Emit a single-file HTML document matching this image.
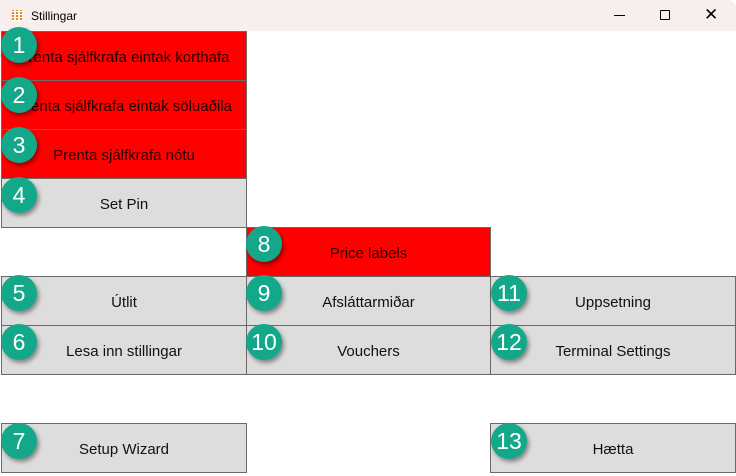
<!DOCTYPE html>
<html><head><meta charset="utf-8"><style>
*{margin:0;padding:0;box-sizing:border-box}
body{width:736px;height:473px;overflow:hidden;background:#fff;font-family:"Liberation Sans","DejaVu Sans",sans-serif;position:relative}
.tb{position:absolute;left:0;top:0;width:736px;height:31px;background:#f7efee;border-top-right-radius:8px}
.tt{position:absolute;left:31px;top:9px;font-size:12px;color:#000}
.ic{position:absolute;left:12px;top:10px;width:10px;height:11px;
background:repeating-linear-gradient(90deg,#e08a2a 0 2px,transparent 2px 4px);}
.ic2{position:absolute;left:12px;top:10px;width:10px;height:11px;background:repeating-linear-gradient(0deg,#fff 0 1px,transparent 1px 3px)}
.b{position:absolute;height:50px;border:1px solid #6a6a6a;background:#dddddd;font-size:15px;color:#111;text-align:center;line-height:52px;padding-top:0}
.r{background:#ff0000;color:#200}
.c0{left:1px;width:246px}.c1{left:246px;width:245px}.c2{left:490px;width:246px}
.n{position:absolute;width:36px;height:36px;border-radius:50%;background:#13a88a;color:#fff;font-size:23px;text-align:center;line-height:36px;box-shadow:2px 3px 4px rgba(0,0,0,.4);margin-left:-18px;margin-top:-18px}
.ctl{position:absolute;top:8px;font-size:14px;color:#000}
</style></head><body>
<div class="tb"><div class="ic"></div><div class="ic2"></div><div class="tt">Stillingar</div>
<div style="position:absolute;left:614px;top:15px;width:11px;height:1px;background:#000"></div>
<div style="position:absolute;left:660px;top:10px;width:10px;height:10px;border:1px solid #000;border-radius:1px"></div>
<div class="ctl" style="left:704px;top:5px;font-size:17px">✕</div>
</div>
<div class="b r c0" style="top:31px">Prenta sjálfkrafa eintak korthafa</div>
<div class="b r c0" style="top:80px">Prenta sjálfkrafa eintak söluaðila</div>
<div class="b r c0" style="top:129px">Prenta sjálfkrafa nótu</div>
<div class="b c0" style="top:178px">Set Pin</div>
<div class="b r c1" style="top:227px">Price labels</div>
<div class="b c0" style="top:276px">Útlit</div>
<div class="b c1" style="top:276px">Afsláttarmiðar</div>
<div class="b c2" style="top:276px">Uppsetning</div>
<div class="b c0" style="top:325px">Lesa inn stillingar</div>
<div class="b c1" style="top:325px">Vouchers</div>
<div class="b c2" style="top:325px">Terminal Settings</div>
<div class="b c0" style="top:423px">Setup Wizard</div>
<div class="b c2" style="top:423px">Hætta</div>
<div class="n" style="left:19px;top:45px">1</div>
<div class="n" style="left:19px;top:95px">2</div>
<div class="n" style="left:19px;top:145px">3</div>
<div class="n" style="left:19px;top:195px">4</div>
<div class="n" style="left:264px;top:244px">8</div>
<div class="n" style="left:19px;top:293px">5</div>
<div class="n" style="left:264px;top:293px">9</div>
<div class="n" style="left:509px;top:293px">11</div>
<div class="n" style="left:19px;top:342px">6</div>
<div class="n" style="left:264px;top:342px">10</div>
<div class="n" style="left:509px;top:342px">12</div>
<div class="n" style="left:19px;top:441px">7</div>
<div class="n" style="left:509px;top:441px">13</div>
</body></html>
